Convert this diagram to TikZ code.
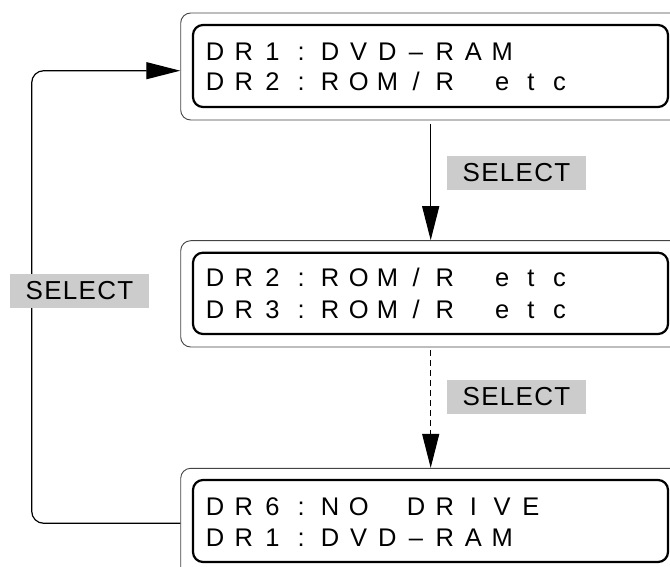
\documentclass[tikz,border=0pt]{standalone}
\usepackage{fontspec}
\setmainfont{Liberation Sans}
\usetikzlibrary{arrows.meta}
\newlength\lcdw
\setlength\lcdw{28.7pt}
\def\lcdloop#1{\ifx#1\relax\else\makebox[\lcdw][c]{#1}\expandafter\lcdloop\fi}
\newcommand\lcd[1]{\lcdloop#1\relax}
\definecolor{labelgray}{HTML}{CCCCCC}
\definecolor{outergray}{HTML}{444444}
\tikzset{
  outerbox/.style={draw=outergray, line width=0.9pt, rounded corners=10pt, minimum width=520pt, inner sep=0pt},
  innerbox/.style={draw=black, line width=2.2pt, rounded corners=10pt, minimum width=475pt, minimum height=82pt, inner sep=0pt},
  lcdtext/.style={anchor=base west, inner sep=0pt, font=\fontsize{25.5}{30}\selectfont},
  selbox/.style={fill=labelgray, minimum width=139pt, minimum height=34pt, inner sep=0pt,
    font=\fontsize{26}{30}\selectfont\addfontfeature{LetterSpace=5}},
  conn/.style={draw=black, line width=1.2pt},
  headl/.style={-{Triangle[length=34pt,width=17pt]}},
}
\begin{document}
\begin{tikzpicture}[x=1pt,y=-1pt]
\useasboundingbox (0,0) rectangle (670,567);
\clip (0,0) rectangle (670,567);
% boxes
\node[outerbox, minimum height=107pt] (o1) at (440.7,66.5) {};
\node[innerbox] (i1) at (430.5,66) {};
\node[outerbox, minimum height=106.3pt] (o2) at (440.7,293.85) {};
\node[innerbox, minimum height=81.3pt] (i2) at (430.5,293.35) {};
\node[outerbox, minimum height=110pt] (o3) at (440.7,523.3) {};
\node[innerbox] (i3) at (430.5,521) {};
% texts
\node[lcdtext] (t1a) at (200.65,60.5) {\lcd{DR1:DVD–RAM}};
\node[lcdtext] (t1b) at (200.65,91) {\lcd{DR2:ROM/R~etc}};
\node[lcdtext] (t2a) at (200.65,287) {\lcd{DR2:ROM/R~etc}};
\node[lcdtext] (t2b) at (200.65,318) {\lcd{DR3:ROM/R~etc}};
\node[lcdtext] (t3a) at (200.65,515.5) {\lcd{DR6:NO~DRIVE}};
\node[lcdtext] (t3b) at (200.65,546) {\lcd{DR1:DVD–RAM}};
% connectors
\coordinate (a1s) at (430.7,124);
\coordinate (a2s) at (430.7,350);
\coordinate (lpb) at (31.7,523.3);
\coordinate (lpt) at (31.7,70.7);
\draw[conn, headl] (a1s) -- (o2.north -| a1s);
\draw[conn, headl, dash pattern=on 6pt off 4pt] (a2s) -- (o3.north -| a2s);
\draw[conn, rounded corners=12pt, headl] (o3.west |- lpb) -- (lpb) -- (lpt) -- (o1.west |- lpt);
% labels
\node[selbox] (s1) at (516.5,173) {SELECT};
\node[selbox] (s2) at (516.5,396.5) {SELECT};
\node[selbox] (s3) at (79.5,291) {SELECT};
\end{tikzpicture}
\end{document}
